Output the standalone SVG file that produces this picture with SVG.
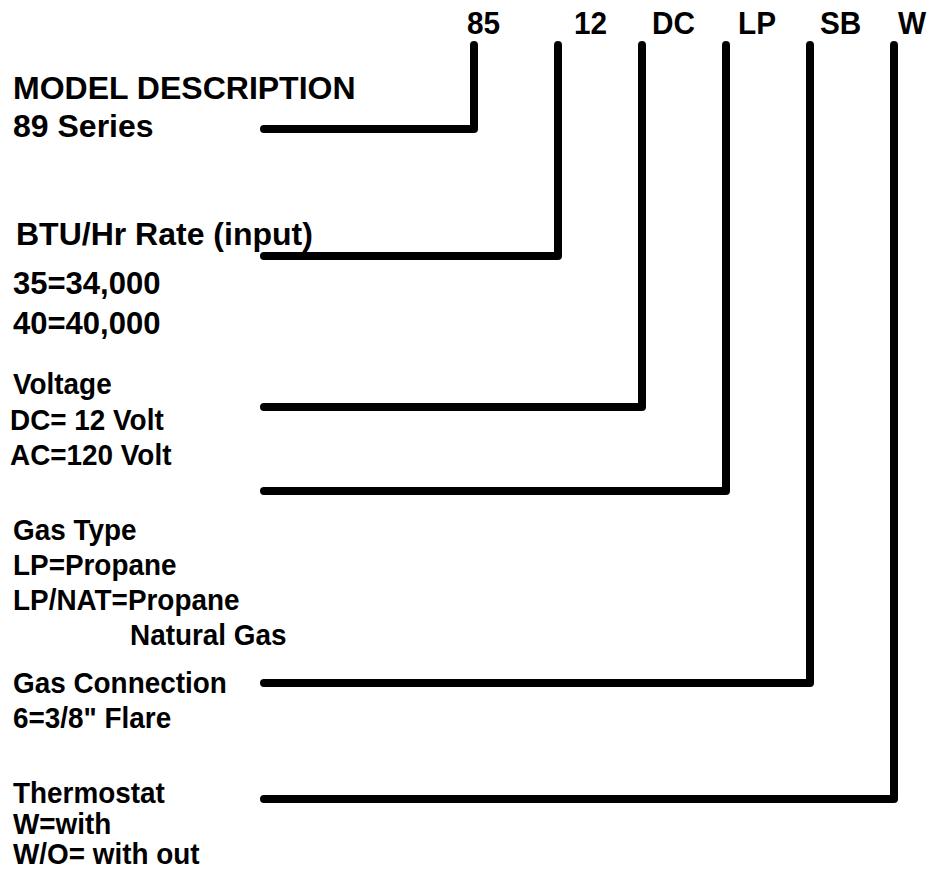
<svg xmlns="http://www.w3.org/2000/svg" width="931" height="871" viewBox="0 0 931 871">
<style>
text{font-family:"Liberation Sans",Arial,sans-serif;font-weight:bold;fill:#000}
.code{font-size:32px}
.big{font-size:32px}
.mid{font-size:31px}
.sm{font-size:30px}
.conn{fill:none;stroke:#000;stroke-width:8;stroke-linecap:round;stroke-linejoin:round}
</style>
<rect width="931" height="871" fill="#fff"/>
<g id="codes">
<text class="code" transform="matrix(0.93 0 0 1 467 34)">85</text>
<text class="code" transform="matrix(0.93 0 0 1 574 34)">12</text>
<text class="code" transform="matrix(0.93 0 0 1 652 34)">DC</text>
<text class="code" transform="matrix(0.93 0 0 1 738 34)">LP</text>
<text class="code" transform="matrix(0.93 0 0 1 820 34)">SB</text>
<text class="code" transform="matrix(0.93 0 0 1 898 34)">W</text>
</g>
<g id="connectors">
<path class="conn" d="M474 45V129H264"/>
<path class="conn" d="M558 45V256H264"/>
<path class="conn" d="M642 45V407H264"/>
<path class="conn" d="M726 45V491H264"/>
<path class="conn" d="M810 45V683H264"/>
<path class="conn" d="M894 45V799H264"/>
</g>
<g id="model">
<text class="big" x="13" y="99">MODEL DESCRIPTION</text>
<text class="big" x="13" y="137">89 Series</text>
</g>
<g id="btu">
<text class="big" x="16" y="245">BTU/Hr Rate (input)</text>
<text class="mid" x="13" y="294">35=34,000</text>
<text class="mid" x="13" y="334">40=40,000</text>
</g>
<g id="voltage">
<text class="sm" transform="matrix(0.93 0 0 1 13 394)">Voltage</text>
<text class="sm" transform="matrix(0.93 0 0 1 10 430)">DC= 12 Volt</text>
<text class="sm" transform="matrix(0.93 0 0 1 10 465)">AC=120 Volt</text>
</g>
<g id="gastype">
<text class="sm" transform="matrix(0.93 0 0 1 13 540)">Gas Type</text>
<text class="sm" transform="matrix(0.93 0 0 1 13 575)">LP=Propane</text>
<text class="sm" transform="matrix(0.93 0 0 1 13 610)">LP/NAT=Propane</text>
<text class="sm" transform="matrix(0.93 0 0 1 130 645)">Natural Gas</text>
</g>
<g id="gasconn">
<text class="sm" transform="matrix(0.93 0 0 1 13 693)">Gas Connection</text>
<text class="sm" transform="matrix(0.93 0 0 1 13 728)">6=3/8" Flare</text>
</g>
<g id="thermostat">
<text class="sm" transform="matrix(0.93 0 0 1 13 803)">Thermostat</text>
<text class="sm" transform="matrix(0.93 0 0 1 13 834)">W=with</text>
<text class="sm" transform="matrix(0.93 0 0 1 13 864)">W/O= with out</text>
</g>
</svg>
